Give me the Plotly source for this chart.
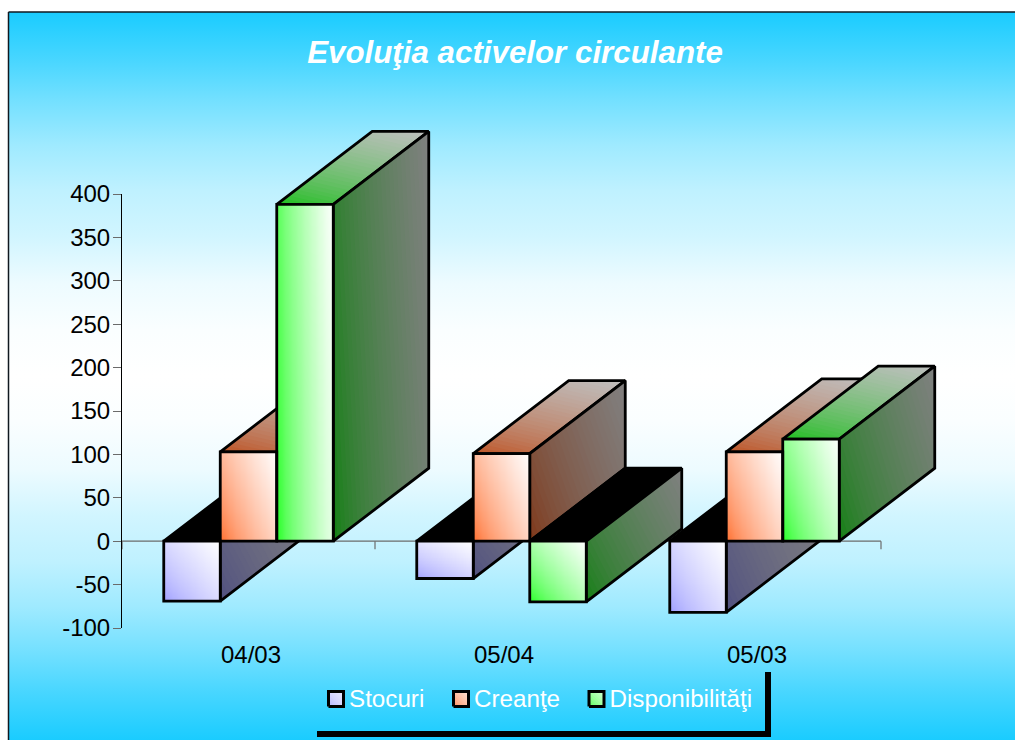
import base64
import plotly.graph_objects as go

# ---- chart values ----
categories = ["04/03", "05/04", "05/03"]
stocuri = [-69, -43, -82]
creante = [103, 101, 103]
disponibilitati = [388, -70, 117.5]
series_names = ["Stocuri", "Creanţe", "Disponibilităţi"]
series_values = [stocuri, creante, disponibilitati]
series_colors = [(153, 153, 255), (255, 102, 34), (26, 255, 26)]
y_ticks = list(range(-100, 401, 50))
y_tick_labels = [str(v) for v in y_ticks]
TITLE = "Evoluţia activelor circulante"

# ---- page geometry, in pixels ----
W_PAGE, H_PAGE = 1015, 740
PLOT_LEFT, PLOT_RIGHT, PLOT_TOP, PLOT_BOTTOM = 122, 881, 194, 628
Y_MIN, Y_MAX = -100, 400
PX_X = (PLOT_RIGHT - PLOT_LEFT) / 3          # pixels per category
PX_Y = (PLOT_BOTTOM - PLOT_TOP) / (Y_MAX - Y_MIN)  # pixels per value unit
BAR_GAP = 0.33
BAR_W = (1 - BAR_GAP) / 3
DEPTH_X = 95.5 / PX_X
DEPTH_Y = 73 / PX_Y
FONT = "Liberation Sans"
STROKE = 2.8
N_STRIPS = 28
GAMMA = 0.65   # shading eases quickly away from the saturated corner


def px_to_x(px):
    return (px - PLOT_LEFT) / PX_X - 0.5


def px_to_y(py):
    return Y_MIN + (PLOT_BOTTOM - py) / PX_Y


def mix(c0, c1, t):
    return "rgb(%d,%d,%d)" % tuple(round(a + (b - a) * t) for a, b in zip(c0, c1))


def blend(c0, c1, t):
    return tuple(a + (b - a) * t for a, b in zip(c0, c1))


def clip_halfplane(poly, fn, level):
    """Keep the part of a polygon where fn(point) >= level."""
    out = []
    for i, p in enumerate(poly):
        q = poly[(i + 1) % len(poly)]
        fp, fq = fn(p) - level, fn(q) - level
        if fp >= 0:
            out.append(p)
        if (fp >= 0) != (fq >= 0):
            s = fp / (fp - fq)
            out.append((p[0] + (q[0] - p[0]) * s, p[1] + (q[1] - p[1]) * s))
    return out


def gradient_param(poly):
    """Corner-to-corner parameter over a polygon's bounding box: 0 lower left, 1 upper right."""
    xs, ys = [p[0] for p in poly], [p[1] for p in poly]
    x0, y0 = min(xs), min(ys)
    dx, dy = max(xs) - x0, max(ys) - y0
    w, h = dx * PX_X, dy * PX_Y

    def t(p):
        return (h * (p[0] - x0) / dx + w * (p[1] - y0) / dy) / (w + h)

    return t


def outline(poly, stroke=STROKE):
    return go.Scatter(
        x=[p[0] for p in poly] + [poly[0][0]],
        y=[p[1] for p in poly] + [poly[0][1]],
        mode="lines", line=dict(color="black", width=stroke),
        hoverinfo="skip", showlegend=False,
    )


def gradient_face(poly, c0, c1, strips=N_STRIPS, stroke=STROKE):
    """Overlapping filled polygons that step from c0 to c1, plus a black outline."""
    t = gradient_param(poly)
    traces = []
    for k in range(strips):
        part = clip_halfplane(poly, t, k / strips)
        if len(part) < 3:
            continue
        traces.append(go.Scatter(
            x=[p[0] for p in part] + [part[0][0]],
            y=[p[1] for p in part] + [part[0][1]],
            mode="lines", fill="toself", line=dict(width=0),
            fillcolor=mix(c0, c1, ((k + 0.5) / strips) ** GAMMA),
            hoverinfo="skip", showlegend=False,
        ))
    traces.append(outline(poly, stroke))
    return traces


def shade(color, k):
    return tuple(c * k for c in color)


fig = go.Figure()
GREY_SIDE, GREY_TOP = (128, 128, 128), (191, 191, 191)
WHITE = (255, 255, 255)

# Depth faces of every bar, painted back to front on the full-page axes
for c in range(len(categories)):
    for s, values in enumerate(series_values):
        v = values[c]
        color = series_colors[s]
        left = c + (s - 1.5) * BAR_W
        right = left + BAR_W
        top = max(v, 0)
        low = min(v, 0)
        top_face = [(left, top), (right, top), (right + DEPTH_X, top + DEPTH_Y), (left + DEPTH_X, top + DEPTH_Y)]
        side_face = [(right, low), (right + DEPTH_X, low + DEPTH_Y), (right + DEPTH_X, top + DEPTH_Y), (right, top)]
        if v < 0:
            # the cap of a negative bar is in shadow
            fig.add_trace(go.Scatter(
                x=[p[0] for p in top_face] + [top_face[0][0]],
                y=[p[1] for p in top_face] + [top_face[0][1]],
                mode="lines", fill="toself", fillcolor="black",
                line=dict(color="black", width=STROKE),
                hoverinfo="skip", showlegend=False,
            ))
        else:
            fig.add_traces(gradient_face(top_face, shade(color, 0.75), GREY_TOP))
        fig.add_traces(gradient_face(side_face, shade(color, 0.5), GREY_SIDE))

# Gradient front faces, under the outlined bars on the value axes
GRID = 24
for s, values in enumerate(series_values):
    color = series_colors[s]
    for c, v in enumerate(values):
        left = c + (s - 1.5) * BAR_W
        low, high = min(v, 0), max(v, 0)
        xe = [left + BAR_W * i / GRID for i in range(GRID + 1)]
        ye = [low + (high - low) * j / GRID for j in range(GRID + 1)]
        w, h = BAR_W * PX_X, (high - low) * PX_Y
        z = [[((h * (i + 0.5) / GRID + w * (j + 0.5) / GRID) / (w + h)) ** GAMMA for i in range(GRID)]
             for j in range(GRID)]
        fig.add_trace(go.Heatmap(
            x=xe, y=ye, z=z, zmin=0, zmax=1, zsmooth="best", showscale=False,
            colorscale=[[0, mix(color, color, 0)], [1, "rgb(255,255,255)"]],
            hoverinfo="skip", xaxis="x2", yaxis="y2",
        ))

for name, values in zip(series_names, series_values):
    fig.add_trace(go.Bar(
        x=list(range(len(categories))), y=values, name=name,
        marker=dict(color="rgba(0,0,0,0)", line=dict(color="black", width=STROKE)),
        xaxis="x2", yaxis="y2", showlegend=False, hoverinfo="x+y+name",
    ))

# Legend entries
LEGEND_X = [336, 461, 596.5]
LEGEND_Y = 699
SWATCH = 7.5
for name, color, cx in zip(series_names, series_colors, LEGEND_X):
    box = [
        (px_to_x(cx - SWATCH), px_to_y(LEGEND_Y + SWATCH)),
        (px_to_x(cx + SWATCH), px_to_y(LEGEND_Y + SWATCH)),
        (px_to_x(cx + SWATCH), px_to_y(LEGEND_Y - SWATCH)),
        (px_to_x(cx - SWATCH), px_to_y(LEGEND_Y - SWATCH)),
    ]
    fig.add_traces(gradient_face(box, blend(color, WHITE, 0.2), blend(color, WHITE, 0.8), strips=10, stroke=3))
    fig.add_trace(go.Scatter(
        x=[px_to_x(cx + 13)], y=[px_to_y(LEGEND_Y + 2)], mode="text", text=[name],
        textposition="middle right", textfont=dict(family=FONT, size=24.2, color="white"),
        hoverinfo="skip", showlegend=False,
    ))

# Zero line and category ticks sit behind the bars
shapes = [dict(
    type="line", xref="x", yref="y", layer="below",
    x0=-0.5, x1=len(categories) - 0.5, y0=0, y1=0,
    line=dict(color="#6b6b6b", width=1.2),
)]
for i in range(len(categories) + 1):
    shapes.append(dict(
        type="line", xref="x", yref="y", layer="below",
        x0=i - 0.5, x1=i - 0.5, y0=0, y1=-8 / PX_Y,
        line=dict(color="#6b6b6b", width=1.2),
    ))

# Frame on the top and left of the chart area
shapes += [
    dict(type="line", xref="paper", yref="paper", x0=8.5 / W_PAGE, x1=1, y0=1 - 12 / H_PAGE, y1=1 - 12 / H_PAGE,
         line=dict(color="#101820", width=1.5)),
    dict(type="line", xref="paper", yref="paper", x0=8.5 / W_PAGE, x1=8.5 / W_PAGE, y0=1 - 12 / H_PAGE, y1=0,
         line=dict(color="#101820", width=1.5)),
]
# Legend drop shadow
shapes += [
    dict(type="rect", xref="paper", yref="paper", x0=317 / W_PAGE, x1=771 / W_PAGE,
         y0=1 - 737 / H_PAGE, y1=1 - 731 / H_PAGE, fillcolor="black", line=dict(width=0)),
    dict(type="rect", xref="paper", yref="paper", x0=765 / W_PAGE, x1=771 / W_PAGE,
         y0=1 - 737 / H_PAGE, y1=1 - 672 / H_PAGE, fillcolor="black", line=dict(width=0)),
]

# Vertical wash behind the whole chart: cyan at the edges, white through the middle
WASH = [(0.0, 0.0), (0.066, 0.2), (0.121, 0.39), (0.183, 0.58), (0.245, 0.72), (0.308, 0.80),
        (0.372, 0.92), (0.437, 0.98), (0.5, 1.0)]
WASH = WASH + [(1 - o, t) for o, t in reversed(WASH[:-1])]
stops = "".join(
    '<stop offset="%.3f" stop-color="%s"/>' % (o, mix((26, 204, 255), WHITE, t)) for o, t in WASH
)
BG_SVG = (
    '<svg xmlns="http://www.w3.org/2000/svg" width="100" height="100" preserveAspectRatio="none">'
    '<defs><linearGradient id="g" x1="0" y1="0" x2="0" y2="1">' + stops +
    '</linearGradient></defs><rect width="100" height="100" fill="url(#g)"/></svg>'
)
bg_uri = "data:image/svg+xml;base64," + base64.b64encode(BG_SVG.encode()).decode()

axis_off = dict(visible=False, fixedrange=True, automargin=False)
fig.update_layout(
    template="none",
    width=W_PAGE, height=H_PAGE, autosize=False,
    margin=dict(l=0, r=0, t=0, b=0, pad=0),
    paper_bgcolor="white", plot_bgcolor="rgba(0,0,0,0)",
    barmode="group", bargap=BAR_GAP, bargroupgap=0,
    font=dict(family=FONT, size=24, color="black"),
    showlegend=False,
    title=dict(
        text=TITLE, x=515 / W_PAGE, y=1 - 52 / H_PAGE, xanchor="center", yanchor="middle",
        font=dict(family=FONT, size=31.3, color="white", weight="bold", style="italic"),
    ),
    shapes=shapes,
    images=[dict(
        source=bg_uri, xref="paper", yref="paper", x=9 / W_PAGE, y=1 - 12 / H_PAGE,
        sizex=1 - 9 / W_PAGE, sizey=1 - 12 / H_PAGE, xanchor="left", yanchor="top",
        sizing="stretch", layer="below",
    )],
    # full-page axes carrying the depth faces, scaled like the value axes
    xaxis=dict(domain=[0, 1], range=[px_to_x(0), px_to_x(W_PAGE)], **axis_off),
    yaxis=dict(domain=[0, 1], range=[px_to_y(H_PAGE), px_to_y(0)], **axis_off),
    xaxis2=dict(
        domain=[PLOT_LEFT / W_PAGE, PLOT_RIGHT / W_PAGE], range=[-0.5, len(categories) - 0.5],
        anchor="y2", tickmode="array", tickvals=[i + 0.01 for i in range(len(categories))],
        ticktext=categories, ticks="outside", ticklen=5, tickcolor="rgba(0,0,0,0)",
        showgrid=False, zeroline=False, showline=False, fixedrange=True, automargin=False,
        tickfont=dict(family=FONT, size=24, color="black"),
    ),
    yaxis2=dict(
        domain=[1 - PLOT_BOTTOM / H_PAGE, 1 - PLOT_TOP / H_PAGE], range=[Y_MIN, Y_MAX],
        anchor="x2", tickmode="array", tickvals=y_ticks, ticktext=y_tick_labels, ticks="outside", ticklen=8,
        ticklabelstandoff=-2,
        tickcolor="#6b6b6b", tickwidth=1.2, showline=True, linecolor="black", linewidth=1,
        showgrid=False, zeroline=False, fixedrange=True, automargin=False,
        tickfont=dict(family=FONT, size=24, color="black"),
    ),
)

fig.write_html("out.html", config=dict(displayModeBar=False, responsive=False))
